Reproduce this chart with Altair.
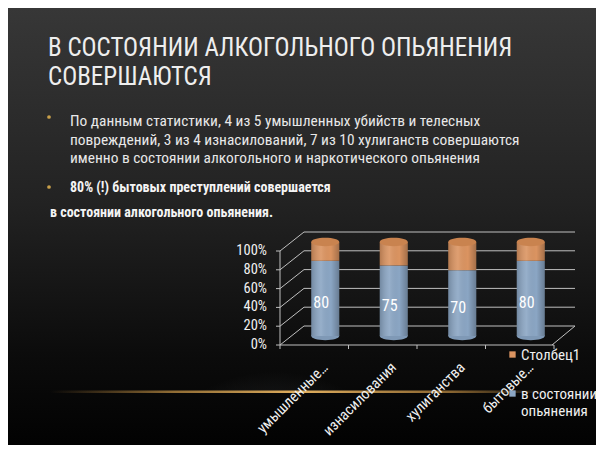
import altair as alt
import pandas as pd

# ---------------- data ----------------
categories = ["умышленные…", "изнасилования", "хулиганства", "бытовые…"]
series_names = ["в состоянии опьянения", "Столбец1"]
drunk_values = [80, 75, 70, 80]
rest_values = [20, 25, 30, 20]
y_ticks = [0, 20, 40, 60, 80, 100]

title_lines = ["В СОСТОЯНИИ АЛКОГОЛЬНОГО ОПЬЯНЕНИЯ", "СОВЕРШАЮТСЯ"]
bullet1_lines = [
    "По данным статистики, 4 из 5 умышленных убийств и телесных",
    "повреждений, 3 из 4 изнасилований, 7 из 10 хулиганств совершаются",
    "именно в состоянии алкогольного и наркотического опьянения",
]
bullet2_line = "80% (!) бытовых преступлений совершается"
tail_line = "в состоянии алкогольного опьянения."

# ---------------- layout ----------------
TOTAL_W, TOTAL_H = 588, 437
VX, VY = 272, 243          # plot-area origin inside the canvas
VW, VH = 274, 94           # plot-area size (front plane of the 3D box)
DEPTH_X, DEPTH_Y = 24, -19  # 3D depth offset of the back wall
CYL_DX, CYL_DY = 11, -9     # cylinders sit half way into the depth
CYL_W = 28

FONT = "Roboto Condensed, Liberation Sans Narrow, Roboto, sans-serif"
BLUE = "#8ba6c4"
ORANGE = "#db9461"
ORANGE_TOP = "#c9834f"
GRID = "#c0c0c0"
TXT = "#f0f0f0"


def vx(px):
    return px - 8 - VX


def vy(py):
    return py - 8 - VY


one = pd.DataFrame({"k": [0]})

df = pd.DataFrame({
    "cat": categories * 2,
    "series": [series_names[0]] * len(categories) + [series_names[1]] * len(categories),
    "val": drunk_values + rest_values,
    "ord": [0] * len(categories) + [1] * len(categories),
})
caps = pd.DataFrame({
    "cat": categories,
    "bottom": [0] * len(categories),
    "top": [a + b for a, b in zip(drunk_values, rest_values)],
})
lbl = pd.DataFrame({"cat": categories, "val": drunk_values})
ticks = pd.DataFrame({"v": y_ticks})
cats = pd.DataFrame({"cat": categories})

yscale = alt.Scale(domain=[0, 100], nice=False, zero=True)
xscale = alt.Scale(domain=categories)
X = alt.X("cat:N", scale=xscale, sort=categories, title=None, axis=None)


def Y(field):
    return alt.Y(field, scale=yscale, title=None, axis=None)


ELLIPSE = "M-1,0A1,0.3,0,1,1,1,0A1,0.3,0,1,1,-1,0Z"

# ---------------- background ----------------
bg = alt.Chart(one).mark_rect(
    fill={"gradient": "linear", "x1": 0, "y1": 0, "x2": 0, "y2": 1,
          "stops": [{"offset": 0, "color": "#373737"},
                    {"offset": 0.45, "color": "#222222"},
                    {"offset": 0.8, "color": "#0b0b0b"},
                    {"offset": 1, "color": "#020202"}]}
).encode(x=alt.value(-VX), x2=alt.value(TOTAL_W - VX),
         y=alt.value(-VY), y2=alt.value(TOTAL_H - VY))

haze = alt.Chart(one).mark_rect(
    fill={"gradient": "radial", "x1": 0.55, "y1": 1, "x2": 0.55, "y2": 1, "r1": 0, "r2": 0.5,
          "stops": [{"offset": 0, "color": "rgba(150,155,160,0.45)"},
                    {"offset": 1, "color": "rgba(150,155,160,0)"}]}
).encode(x=alt.value(vx(110)), x2=alt.value(vx(410)),
         y=alt.value(vy(352)), y2=alt.value(vy(391)))

glare = alt.Chart(one).mark_rect(
    fill={"gradient": "linear", "x1": 0, "y1": 0, "x2": 1, "y2": 0,
          "stops": [{"offset": 0, "color": "rgba(180,130,60,0)"},
                    {"offset": 0.25, "color": "rgba(180,135,65,0.8)"},
                    {"offset": 0.5, "color": "rgba(225,175,95,1)"},
                    {"offset": 0.8, "color": "rgba(170,125,60,0.8)"},
                    {"offset": 1, "color": "rgba(170,125,60,0)"}]}
).encode(x=alt.value(vx(50)), x2=alt.value(vx(550)),
         y=alt.value(vy(390.5)), y2=alt.value(vy(393)))

# ---------------- 3D frame ----------------
back_wall = alt.Chart(ticks).mark_rule(color=GRID, strokeWidth=1, yOffset=DEPTH_Y).encode(
    y=Y("v:Q"), x=alt.value(DEPTH_X), x2=alt.value(VW + 21))

side_wall = alt.Chart(ticks).mark_rule(color=GRID, strokeWidth=1, y2Offset=DEPTH_Y).encode(
    y=Y("v:Q"), y2="v:Q", x=alt.value(0), x2=alt.value(DEPTH_X))

floor_edge = alt.Chart(ticks.head(1)).mark_rule(color=GRID, strokeWidth=1, yOffset=DEPTH_Y).encode(
    y=Y("v:Q"), y2="v:Q", x=alt.value(VW + 21), x2=alt.value(VW - 2))

# ---------------- axes (drawn through the scales) ----------------
y_domain = alt.Chart(ticks).mark_rule(color=GRID, strokeWidth=1).encode(
    x=alt.value(0), y=alt.Y("min(v):Q", scale=yscale, title=None, axis=None), y2="max(v):Q")

y_tick_marks = alt.Chart(ticks).mark_rule(color=GRID, strokeWidth=1).encode(
    y=Y("v:Q"), x=alt.value(-4), x2=alt.value(0))

y_labels = alt.Chart(ticks).transform_calculate(lab="datum.v + '%'").mark_text(
    font=FONT, fontSize=14.5, color=TXT, align="right", baseline="middle", dx=-13
).encode(y=Y("v:Q"), x=alt.value(0), text="lab:N")

x_domain = alt.Chart(ticks.head(1)).mark_rule(color=GRID, strokeWidth=1).encode(
    y=Y("v:Q"), x=alt.value(0), x2=alt.value(VW))

x_tick_marks = alt.Chart(cats).mark_rule(color=GRID, strokeWidth=1).encode(
    x=alt.X("cat:N", scale=xscale, sort=categories, title=None, axis=None, bandPosition=0),
    y=alt.value(VH), y2=alt.value(VH + 4))

x_tick_end = alt.Chart(one).mark_rule(color=GRID, strokeWidth=1).encode(
    x=alt.value(VW), y=alt.value(VH), y2=alt.value(VH + 4))

x_labels = alt.Chart(cats).mark_text(
    font=FONT, fontSize=15, color=TXT, align="right", baseline="top", angle=315, xOffset=6
).encode(x=X, y=alt.value(VH + 15), text="cat:N")

# ---------------- cylinders ----------------
bars = alt.Chart(df).mark_bar(size=CYL_W, xOffset=CYL_DX, yOffset=CYL_DY, y2Offset=CYL_DY).encode(
    x=X,
    y=alt.Y("val:Q", stack="zero", scale=yscale, title=None, axis=None),
    color=alt.Color("series:N",
                    scale=alt.Scale(domain=[series_names[1], series_names[0]], range=[ORANGE, BLUE]),
                    legend=alt.Legend(title=None, orient="none", legendX=vx(505), legendY=vy(347),
                                      symbolType="square", symbolSize=40, symbolStrokeWidth=0,
                                      labelFont=FONT, labelFontSize=15, labelColor=TXT,
                                      labelOffset=1, labelLimit=200, rowPadding=23,
                                      labelExpr="datum.label == 'в состоянии опьянения' ? ['в состоянии', 'опьянения'] : datum.label")),
    order=alt.Order("ord:Q"),
)

shade = alt.Chart(caps).mark_bar(
    size=CYL_W, xOffset=CYL_DX, yOffset=CYL_DY, y2Offset=CYL_DY,
    fill={"gradient": "linear", "x1": 0, "y1": 0, "x2": 1, "y2": 0,
          "stops": [{"offset": 0, "color": "rgba(0,0,0,0.18)"},
                    {"offset": 0.35, "color": "rgba(255,255,255,0.10)"},
                    {"offset": 0.7, "color": "rgba(0,0,0,0)"},
                    {"offset": 1, "color": "rgba(0,0,0,0.25)"}]}
).encode(x=X, y=Y("bottom:Q"), y2="top:Q")

bottom_cap = alt.Chart(caps).mark_point(
    shape=ELLIPSE, size=CYL_W * CYL_W, filled=True, opacity=1, color="#7f99b6",
    strokeWidth=0, xOffset=CYL_DX, yOffset=CYL_DY
).encode(x=X, y=Y("bottom:Q"))

top_cap = alt.Chart(caps).mark_point(
    shape=ELLIPSE, size=CYL_W * CYL_W, filled=True, opacity=1, color=ORANGE_TOP,
    strokeWidth=0, xOffset=CYL_DX, yOffset=CYL_DY
).encode(x=X, y=Y("top:Q"))

labels = alt.Chart(lbl).transform_calculate(mid="datum.val / 2").mark_text(
    font=FONT, fontSize=16, color="white", xOffset=CYL_DX - 4, yOffset=CYL_DY + 5
).encode(x=X, y=Y("mid:Q"), text="val:Q")

# ---------------- slide texts ----------------
title = alt.Chart(one).mark_text(
    font=FONT, fontSize=25, color="#eeeeee", align="left", baseline="alphabetic", lineHeight=29
).encode(x=alt.value(vx(48)), y=alt.value(vy(56)), text=alt.value(title_lines))

bullet1 = alt.Chart(one).mark_text(
    font=FONT, fontSize=15.4, color="#e8e8e8", align="left", baseline="alphabetic", lineHeight=18.5
).encode(x=alt.value(vx(70)), y=alt.value(vy(126)), text=alt.value(bullet1_lines))

bullet2 = alt.Chart(one).mark_text(
    font=FONT, fontSize=14, fontWeight="bold", color="#f4f4f4", align="left", baseline="alphabetic"
).encode(x=alt.value(vx(70)), y=alt.value(vy(192)), text=alt.value(bullet2_line))

tail = alt.Chart(one).mark_text(
    font=FONT, fontSize=14, fontWeight="bold", color="#f4f4f4", align="left", baseline="alphabetic"
).encode(x=alt.value(vx(50)), y=alt.value(vy(217)), text=alt.value(tail_line))

dot1 = alt.Chart(one).mark_circle(size=14, color="#c9a04a", opacity=1).encode(
    x=alt.value(vx(49)), y=alt.value(vy(117)))
dot2 = alt.Chart(one).mark_circle(size=14, color="#c9a04a", opacity=1).encode(
    x=alt.value(vx(49)), y=alt.value(vy(187)))

chart = alt.layer(
    bg, haze, glare, back_wall, side_wall, floor_edge,
    y_domain, y_tick_marks, y_labels, x_domain, x_tick_marks, x_tick_end, x_labels,
    bottom_cap, bars, shade, top_cap, labels,
    title, bullet1, bullet2, tail, dot1, dot2,
).properties(
    width=VW, height=VH,
    autosize=alt.AutoSizeParams(type="none"),
    padding={"left": VX, "top": VY, "right": TOTAL_W - VX - VW, "bottom": TOTAL_H - VY - VH},
    background="#1b1b1b",
).configure_view(stroke=None)

chart.save("out.html", embed_options={"renderer": "svg", "actions": False})
